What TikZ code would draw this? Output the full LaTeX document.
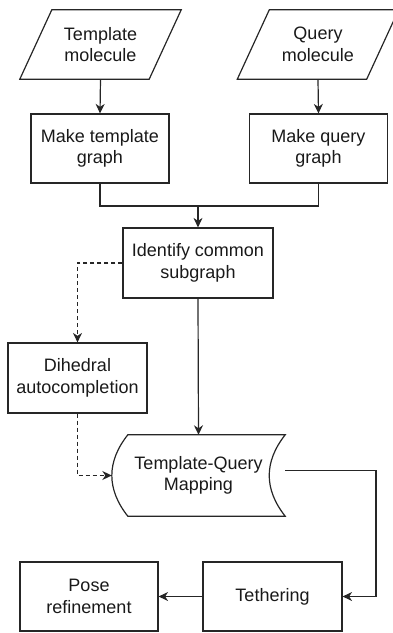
\documentclass[tikz,border=0pt]{standalone}
\usepackage{fontspec}
\setmainfont{Liberation Sans}
\usetikzlibrary{arrows.meta,calc}
\begin{document}
\begin{tikzpicture}[x=1pt,y=-1pt,
  every node/.style={font=\fontsize{18}{21.6}\selectfont, align=center, inner sep=0pt, text=black!90},
  ln/.style={line width=1.2pt, draw=black!85},
  arr/.style={ln, -{Stealth[length=9.5pt,width=9pt,inset=3pt]}},
  dsh/.style={arr, dashed, dash pattern=on 4pt off 3pt},
  procbox/.style={draw, ln, minimum width=138pt, minimum height=69pt},
  databox/.style={minimum width=161pt, minimum height=69pt}
]
\useasboundingbox (0,0) rectangle (393,633);

% inputs
\node[databox] (tmol) at (100.5,44.5) {Template\\molecule};
\draw[ln] ([xshift=32pt]tmol.north west) -- (tmol.north east) -- ([xshift=-32pt]tmol.south east) -- (tmol.south west) -- cycle;
\node[databox] (qmol) at (318,44.5) {Query\\molecule};
\draw[ln] ([xshift=32pt]qmol.north west) -- (qmol.north east) -- ([xshift=-32pt]qmol.south east) -- (qmol.south west) -- cycle;

% graphs
\node[procbox] (tgraph) at (100,148.5) {Make template\\graph};
\node[procbox] (qgraph) at (318.5,148.5) {Make query\\graph};

\node[procbox, minimum width=150pt, minimum height=70pt] (ident) at (198,263) {Identify common\\subgraph};
\node[procbox, minimum width=139pt, minimum height=70pt] (dih) at (77.5,378) {Dihedral\\autocompletion};

% mapping (stored data)
\node[minimum width=173pt, minimum height=81pt] (map) at (198.5,475.5) {Template-Query\\Mapping};
\draw[ln] ($(map.north west)+(16,0)$) -- (map.north east)
  .. controls ($(map.north east)+(-21.3,27)$) and ($(map.south east)+(-21.3,-27)$) .. (map.south east)
  -- ($(map.south west)+(16,0)$)
  .. controls ($(map.south west)+(-5.3,-27)$) and ($(map.north west)+(-5.3,27)$) .. ($(map.north west)+(16,0)$) -- cycle;

\node[procbox, minimum width=139pt] (teth) at (272.5,596.5) {Tethering};
\node[procbox] (pose) at (89,596.5) {Pose\\refinement};

% connectors
\draw[arr] (tmol.south) -- (tgraph.north);
\draw[arr] (qmol.south) -- (qgraph.north);
\coordinate (mg) at (198,206);
\draw[ln] (tgraph.south) |- (mg) -| (qgraph.south);
\draw[arr] (mg) -- (ident.north);
\draw[dsh] (ident.west) -| (dih.north);
\draw[dsh] (dih.south) |- (map.west);
\draw[arr] (ident.south) -- (map.north);
\coordinate (rc) at (376,596.5);
\draw[arr] ([yshift=5pt]map.east) -| (rc) -- (teth.east);
\draw[arr] (teth.west) -- (pose.east);
\end{tikzpicture}
\end{document}
